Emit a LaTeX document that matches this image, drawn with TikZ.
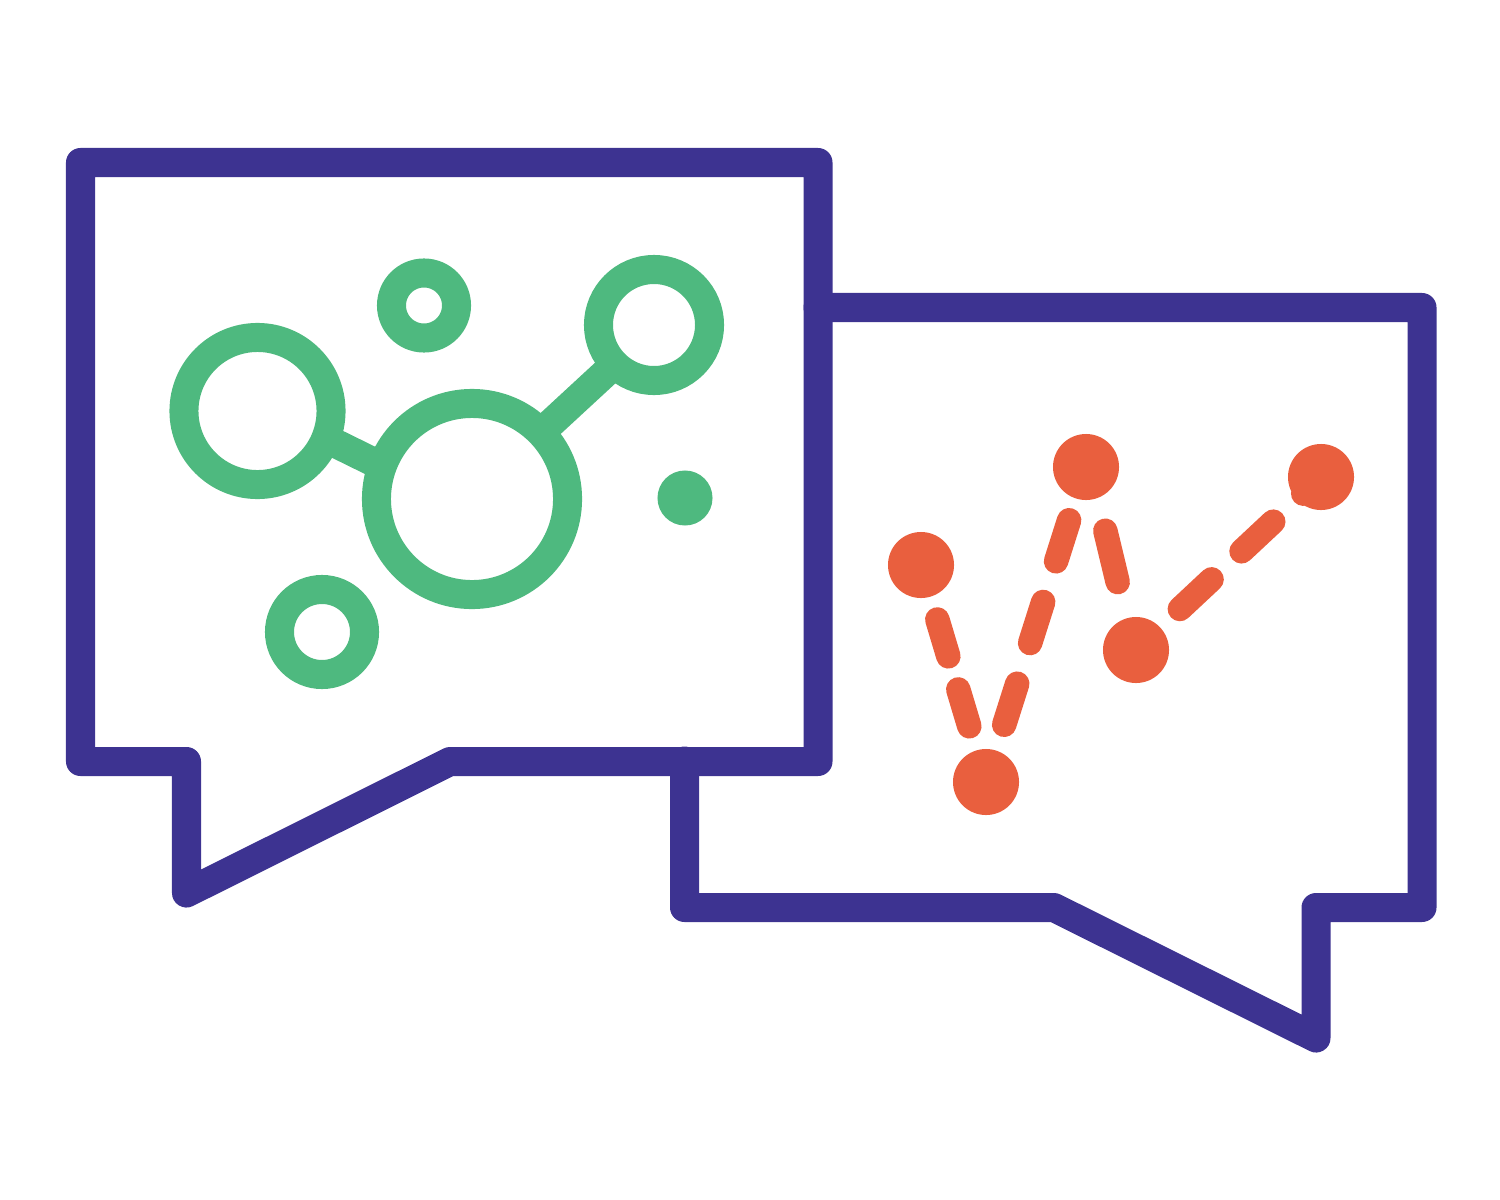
\documentclass[tikz,border=0pt]{standalone}
\definecolor{bubblecolor}{HTML}{3D3391}
\definecolor{ringcolor}{HTML}{4EB97F}
\definecolor{dotcolor}{HTML}{E95F3E}
\begin{document}
\begin{tikzpicture}[x=0.01cm,y=-0.01cm]

    \tikzset{
      bubble/.style={
        color=bubblecolor,
        line width=0.29cm,
        line join=round,
        line cap=round,
      },
      ring/.style={
        circle,
        draw=ringcolor,
        line width=0.29cm,
        inner sep=0pt,
        outer sep=0pt,
        minimum size=#1,
      },
      blob/.style={
        circle,
        fill=#1,
        inner sep=0pt,
        outer sep=0pt,
      },
      link/.style={
        color=ringcolor,
        line width=0.29cm,
      },
      trail/.style={
        color=dotcolor,
        line width=0.245cm,
        line cap=round,
      },
    }
    \useasboundingbox (0,0) rectangle (1500,1200);

    	\draw [bubble] (818,307.5)--(1422,307.5)--(1422,907.5)--(1316,907.5)--(1316,1038)--(1054,907.5)--(684.5,907.5)--(684.5,761);
	\draw [bubble] (80.5,162.5)--(818,162.5)--(818,761.5)--(450,761.5)--(186.5,893)--(186.5,761.5)--(80.5,761.5)--cycle;

	\node [ring=1.47cm] (molleft) at (257.5,411) {};
	\node [ring=1.91cm] (molmid) at (472,499) {};
	\node [ring=1.11cm] (molright) at (654,325) {};
	\node [ring=0.65cm] (moltop) at (424,305.5) {};
	\node [ring=0.85cm] (molbottom) at (322,632) {};
	\node [blob=ringcolor,minimum size=0.55cm] (molfilled) at (685,498) {};
	\draw [link] (molleft.-22.7)--(molmid.160.3);
	\draw [link] (molmid.44.7)--(molright.225.4);

	\node [blob=dotcolor,minimum size=0.66cm] (ptone) at (921,565) {};
	\node [blob=dotcolor,minimum size=0.66cm] (pttwo) at (986,782) {};
	\node [blob=dotcolor,minimum size=0.66cm] (ptthree) at (1086,467) {};
	\node [blob=dotcolor,minimum size=0.66cm] (ptfour) at (1136,650) {};
	\node [blob=dotcolor,minimum size=0.66cm] (ptfive) at (1321,477) {};
	\draw [trail,dash pattern=on 0.385cm off 0.345cm on 0.385cm off 1cm,dash phase=1.547cm] (ptone.center)--(pttwo.center);
	\draw [trail,dash pattern=on 0.431cm off 0.426cm,dash phase=0.257cm] (pttwo.center)--(ptthree.center);
	\draw [trail,dash pattern=on 0.528cm off 1cm,dash phase=0.873cm] ([xshift=0.04cm]ptthree.center)--([xshift=-0.02cm]ptfour.center);
	\draw [trail,dash pattern=on 0.434cm off 0.41cm,dash phase=0.244cm] (ptfour.center)--(ptfive.center);

\end{tikzpicture}
\end{document}
